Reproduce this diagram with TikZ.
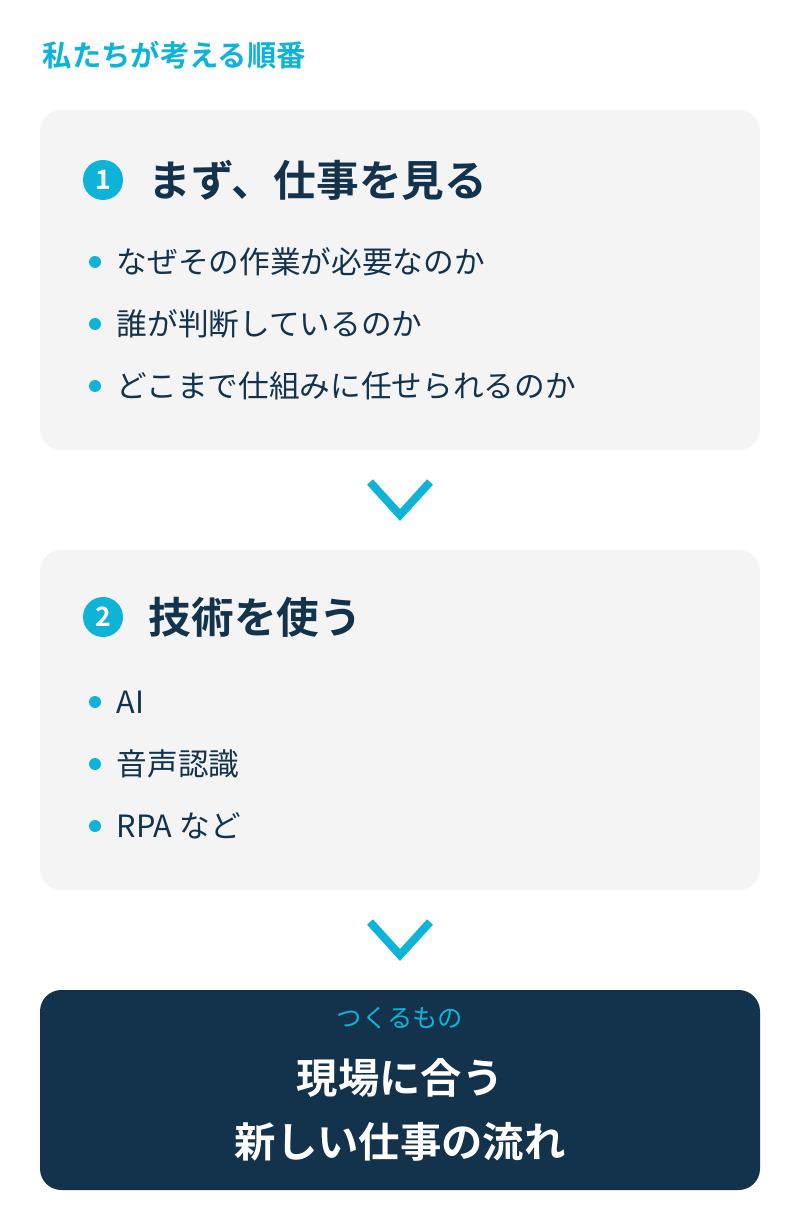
\documentclass[tikz,border=0pt]{standalone}
\usepackage{fontspec}
\setmainfont{Noto Sans CJK JP}[BoldFont={Noto Sans CJK JP Bold}]
\definecolor{accent}{HTML}{0EB4D8}
\definecolor{navy}{HTML}{13324B}
\definecolor{panel}{HTML}{F4F4F5}
\begin{document}
\begin{tikzpicture}[x=0.75pt,y=-0.75pt]
	
	% Define styles
	\tikzset{
		box/.style={draw=none, rounded corners=16pt},
		num/.style={circle, fill=accent, text=white, inner sep=0pt, minimum size=30pt, font=\bfseries\fontsize{20}{20}\selectfont},
		head/.style={anchor=west, text=navy, font=\bfseries\fontsize{32}{32}\selectfont},
		item/.style={anchor=west, text=navy, font=\fontsize{23}{23}\selectfont},
		dot/.style={circle, fill=accent, inner sep=0pt, minimum size=9pt},
		chev/.style={draw=accent, line width=6pt}
	}
	\useasboundingbox (0,0) rectangle (800,1230);
	
	% Title
	\node[anchor=west, text=accent, font=\bfseries\fontsize{22}{22}\selectfont] (title) at (38,55) {私たちが考える順番};
	
	% Panels
	\fill[panel, box] (40,110) rectangle (760,450);
	\fill[panel, box] (40,550) rectangle (760,890);
	\fill[navy, box] (40,990) rectangle (760,1190);
	
	% Step 1
	\node[num] (n1) at (103,180) {1};
	\node[head] (h1) at (144,180) {まず、仕事を見る};
	\foreach \t [count=\i] in {なぜその作業が必要なのか, 誰が判断しているのか, どこまで仕組みに任せられるのか}{
		\node[dot] (d1\i) at (95,200+62*\i) {};
		\node[item] (a1\i) at (112,200+62*\i) {\t};
	}
	
	% Step 2
	\node[num] (n2) at (103,617) {2};
	\node[head] (h2) at (144,617) {技術を使う};
	\foreach \t [count=\i] in {AI, 音声認識, RPA など}{
		\node[dot] (d2\i) at (95,640+62*\i) {};
		\node[item] (a2\i) at (112,640+62*\i) {\t};
	}
	
	% Chevrons
	\coordinate (c1l) at (370,482); \coordinate (c1m) at (400,515); \coordinate (c1r) at (430,482);
	\draw[chev] (c1l) -- (c1m) -- (c1r);
	\coordinate (c2l) at (370,922); \coordinate (c2m) at (400,955); \coordinate (c2r) at (430,922);
	\draw[chev] (c2l) -- (c2m) -- (c2r);
	
	% Result
	\node[text=accent, font=\fontsize{19}{19}\selectfont] (sub) at (400,1018) {つくるもの};
	\node[text=white, align=center, font=\bfseries\fontsize{31}{48}\selectfont] (res) at (400,1110) {現場に合う\\新しい仕事の流れ};
\end{tikzpicture}
\end{document}
